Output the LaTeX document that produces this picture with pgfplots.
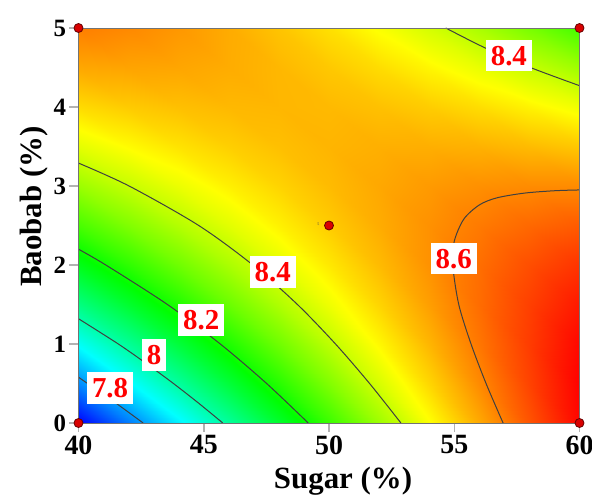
\documentclass[border=0pt]{standalone}
\usepackage{fontspec}
\setmainfont{Liberation Serif}
\usepackage{pgfplots}
\pgfplotsset{compat=1.18}
\begin{document}
\begin{tikzpicture}
\begin{axis}[
  name=ax,
  scale only axis, width=501bp, height=395bp,
  xmin=40, xmax=60, ymin=0, ymax=5,
  xtick={40,45,50,55,60}, ytick={0,1,2,3,4,5},
  xtick pos=bottom, ytick pos=left,
  tick align=outside, major tick length=9bp,
  tick style={draw=gray!60, line width=1.5bp},
  axis line style={draw=gray!90!black, line width=1bp},
  axis on top,
  clip=false,
  colormap={de}{rgb255=(0,0,255) rgb255=(0,255,255) rgb255=(0,255,0) rgb255=(255,255,0) rgb255=(255,0,0)},
  point meta min=7.628, point meta max=8.740,
  /pgf/number format/assume math mode=true,
  xticklabel style={font=\fontsize{28}{28}\selectfont\bfseries},
  yticklabel style={font=\fontsize{25}{25}\selectfont\bfseries},
  xlabel={Sugar (\%)}, ylabel={Baobab (\%)},
  xlabel style={font=\fontsize{31}{31}\selectfont\bfseries, at={(axis description cs:0.528,-0.1646)}, anchor=base},
  ylabel style={font=\fontsize{31}{31}\selectfont\bfseries, at={(axis description cs:-0.0729,0.548)}, anchor=base},
]
\addplot[surf, shader=interp, mesh/rows=11, mesh/cols=11, point meta=explicit] table[meta=f] {
x y f
40 0 7.628
42 0 7.762
44 0 7.891
46 0 8.015
48 0 8.133
50 0 8.247
52 0 8.355
54 0 8.458
56 0 8.555
58 0 8.648
60 0 8.735
40 0.5 7.778
42 0.5 7.898
44 0.5 8.012
46 0.5 8.121
48 0.5 8.225
50 0.5 8.324
52 0.5 8.418
54 0.5 8.506
56 0.5 8.589
58 0.5 8.667
60 0.5 8.740
40 1 7.916
42 1 8.021
44 1 8.121
46 1 8.216
48 1 8.305
50 1 8.390
52 1 8.469
54 1 8.542
56 1 8.611
58 1 8.675
60 1 8.733
40 1.5 8.043
42 1.5 8.133
44 1.5 8.219
46 1.5 8.299
48 1.5 8.374
50 1.5 8.444
52 1.5 8.508
54 1.5 8.567
56 1.5 8.622
58 1.5 8.671
60 1.5 8.714
40 2 8.158
42 2 8.234
44 2 8.305
46 2 8.370
48 2 8.431
50 2 8.486
52 2 8.536
54 2 8.581
56 2 8.620
58 2 8.655
60 2 8.684
40 2.5 8.261
42 2.5 8.323
44 2.5 8.379
46 2.5 8.430
48 2.5 8.476
50 2.5 8.517
52 2.5 8.552
54 2.5 8.582
56 2.5 8.607
58 2.5 8.627
60 2.5 8.642
40 3 8.353
42 3 8.400
44 3 8.441
46 3 8.478
48 3 8.509
50 3 8.536
52 3 8.557
54 3 8.572
56 3 8.583
58 3 8.588
60 3 8.588
40 3.5 8.432
42 3.5 8.465
44 3.5 8.492
46 3.5 8.514
48 3.5 8.531
50 3.5 8.543
52 3.5 8.549
54 3.5 8.550
56 3.5 8.547
58 3.5 8.537
60 3.5 8.523
40 4 8.501
42 4 8.519
44 4 8.531
46 4 8.539
48 4 8.541
50 4 8.538
52 4 8.530
54 4 8.517
56 4 8.499
58 4 8.475
60 4 8.446
40 4.5 8.557
42 4.5 8.561
44 4.5 8.559
46 4.5 8.552
48 4.5 8.540
50 4.5 8.522
52 4.5 8.500
54 4.5 8.472
56 4.5 8.439
58 4.5 8.401
60 4.5 8.357
40 5 8.602
42 5 8.591
44 5 8.575
46 5 8.553
48 5 8.526
50 5 8.495
52 5 8.457
54 5 8.415
56 5 8.368
58 5 8.315
60 5 8.257
};
% contour lines
\addplot[black!75, line width=1bp, smooth] coordinates {(40,0.58) (40.36,0.5) (41.50,0.25) (42.58,0)};
\addplot[black!75, line width=1bp, smooth] coordinates {(40,1.32) (41.59,1.0) (42.72,0.75) (43.79,0.5) (44.80,0.25) (45.76,0)};
\addplot[black!75, line width=1bp, smooth] coordinates {(40,2.20) (41.09,2.0) (43.55,1.5) (45.66,1.0) (47.51,0.5) (49.17,0)};
\addplot[black!75, line width=1bp, smooth] coordinates {(40,3.29) (42.02,3.0) (44.80,2.5) (46.96,2.0) (48.74,1.5) (50.26,1.0) (51.62,0.5) (52.87,0)};
\addplot[black!75, line width=1bp, smooth] coordinates {(54.66,5) (56.22,4.75) (58.04,4.5) (60,4.27)};
\addplot[black!75, line width=1bp, smooth] coordinates {(56.95,0) (56.27,0.5) (55.67,1.0) (55.18,1.5) (54.94,2.0) (55.0,2.3) (55.38,2.58) (56.0,2.76) (56.7,2.85) (57.8,2.91) (59,2.94) (60,2.95)};
% contour labels
\tikzset{clab/.style={fill=white, text=red, font=\fontsize{29}{29}\selectfont\bfseries, inner xsep=5bp, inner ysep=6bp}}
\node[clab] at (axis cs:57.18,4.65) {8.4};
\node[clab] at (axis cs:47.75,1.91) {8.4};
\node[clab] at (axis cs:54.98,2.08) {8.6};
\node[clab] at (axis cs:44.9,1.30) {8.2};
\node[clab] at (axis cs:43.02,0.86) {8};
\node[clab] at (axis cs:41.26,0.44) {7.8};
% design points
\addplot[only marks, mark=*, mark size=4.5bp, mark options={fill=red!85!black, draw=red!40!black, line width=0.8bp}] coordinates {(40,0) (60,0) (40,5) (60,5) (50,2.5)};
\node[font=\fontsize{4}{4}\selectfont, text=black!70] at (axis cs:49.58,2.51) {5};
\end{axis}
\pgfresetboundingbox
\path (ax.south west) ++(-78.5bp,-74bp) rectangle ++(592bp,497bp);
\end{tikzpicture}
\end{document}
